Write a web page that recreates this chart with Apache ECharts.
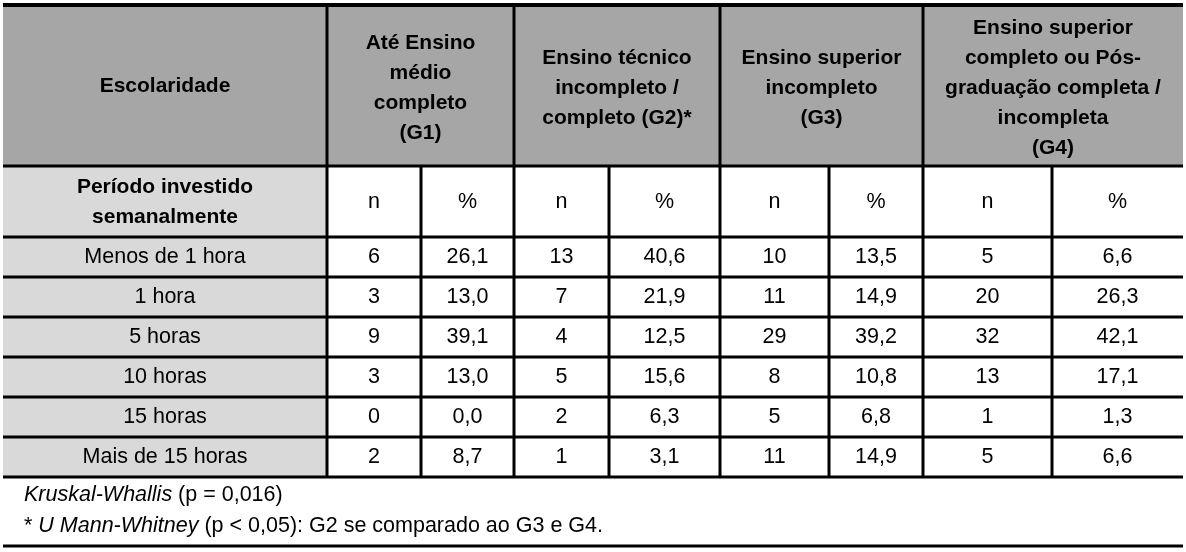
<!DOCTYPE html>
<html><head><meta charset="utf-8">
<script src="https://cdn.jsdelivr.net/npm/echarts@6/dist/echarts.min.js"></script>
<style>html,body{margin:0;padding:0;background:#fff}#c{width:1186px;height:552px}</style>
</head><body><div id="c"></div>
<script>
const groups = ["Até Ensino\nmédio\ncompleto\n(G1)", "Ensino técnico\nincompleto /\ncompleto (G2)*", "Ensino superior\nincompleto\n(G3)", "Ensino superior\ncompleto ou Pós-\ngraduação completa /\nincompleta\n(G4)"];
const firstHeader = "Escolaridade";
const secondHeader = "Período investido\nsemanalmente";
const subHeaders = ["n", "%"];
const periods = ["Menos de 1 hora", "1 hora", "5 horas", "10 horas", "15 horas", "Mais de 15 horas"];
const g1n = ["6","3","9","3","0","2"], g1p = ["26,1","13,0","39,1","13,0","0,0","8,7"];
const g2n = ["13","7","4","5","2","1"], g2p = ["40,6","21,9","12,5","15,6","6,3","3,1"];
const g3n = ["10","11","29","8","5","11"], g3p = ["13,5","14,9","39,2","10,8","6,8","14,9"];
const g4n = ["5","20","32","13","1","5"], g4p = ["6,6","26,3","42,1","17,1","1,3","6,6"];
const cols = [[g1n,g1p],[g2n,g2p],[g3n,g3p],[g4n,g4p]];

const L=3, R=1183, colX=[327,514,720,923,R], split=[421,609,829,1052];
const rowY=[5,166,237,277,317,357,397,437,477];
const F='"Liberation Sans", Arial, sans-serif';
const els=[];
function rect(x,y,w,h,c){els.push({type:'rect',shape:{x,y,width:w,height:h},style:{fill:c},silent:true});}
function line(x1,y1,x2,y2,w){els.push({type:'line',shape:{x1,y1,x2,y2},style:{stroke:'#000',lineWidth:w},silent:true});}
function text(t,x,y,bold,size){els.push({type:'text',x,y,style:{text:t,fill:'#000',font:(bold?'bold ':'')+(size||21.5)+'px '+F,align:'center',verticalAlign:'middle',lineHeight:bold?30:29},silent:true});}
rect(L,rowY[0],R-L,rowY[1]-rowY[0],'#a6a6a6');
rect(L,rowY[1],colX[0]-L,rowY[8]-rowY[1],'#d9d9d9');
text(firstHeader,(L+colX[0])/2,86,true,21);
groups.forEach((g,i)=>text(g,(colX[i]+colX[i+1])/2,88,true,21));
text(secondHeader,(L+colX[0])/2,202,true,21);
for(let i=0;i<4;i++){
  const xs=[colX[i],split[i],colX[i+1]];
  for(let k=0;k<2;k++){
    const cx=(xs[k]+xs[k+1])/2;
    text(subHeaders[k],cx,202,false);
    cols[i][k].forEach((v,r)=>text(v,cx,(rowY[r+2]+rowY[r+3])/2,false));
  }
}
periods.forEach((p,r)=>text(p,(L+colX[0])/2,(rowY[r+2]+rowY[r+3])/2,false));
line(L,5,R,5,4);
for(let j=1;j<rowY.length;j++) line(L,rowY[j],R,rowY[j],3);
for(let i=0;i<4;i++){ line(colX[i],5,colX[i],rowY[8],3); line(split[i],rowY[1],split[i],rowY[8],3); }
line(L,546,R,546,3);
els.push({type:'text',x:24,y:495,style:{text:'{i|Kruskal-Whallis} (p = 0,016)',font:'21.5px '+F,fill:'#000',verticalAlign:'middle',rich:{i:{fontStyle:'italic',fontSize:21.5,fontFamily:F}}}});
els.push({type:'text',x:24,y:526,style:{text:'* {i|U Mann-Whitney} (p < 0,05): G2 se comparado ao G3 e G4.',font:'21.5px '+F,fill:'#000',verticalAlign:'middle',rich:{i:{fontStyle:'italic',fontSize:21.5,fontFamily:F}}}});
const chart=echarts.init(document.getElementById('c'));
chart.setOption({animation:false,graphic:{elements:els}});
</script></body></html>
